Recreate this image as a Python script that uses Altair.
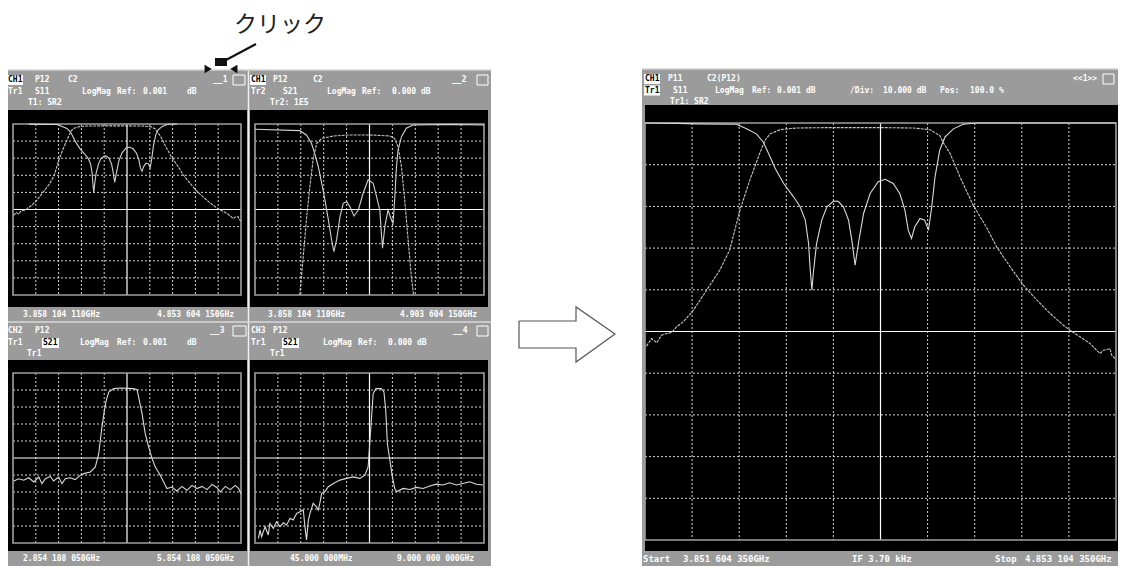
import altair as alt
import pandas as pd

# ---------------- trace data read off the screen shot ----------------
# Panel 1 and the maximised panel show the same measurement (GHz, dB)
s11_freq = [3.852, 3.922, 3.962, 4.047, 4.068, 4.089, 4.104, 4.118, 4.129, 4.147,
            4.168, 4.182, 4.193, 4.200, 4.203, 4.207, 4.210, 4.217, 4.228, 4.239,
            4.253, 4.263, 4.274, 4.285, 4.292, 4.299, 4.306, 4.317, 4.331, 4.348,
            4.363, 4.380, 4.394, 4.405, 4.412, 4.419, 4.426, 4.437, 4.447, 4.455,
            4.462, 4.469, 4.479, 4.490, 4.508, 4.529, 4.557, 4.573, 4.854]
s11_db = [0.0, -0.1, -0.2, -0.3, -1.4, -2.6, -4.6, -8.1, -10.9, -14.5,
          -17.7, -20.1, -23.3, -28.9, -34.5, -40.1, -36.1, -28.9, -23.3, -20.1,
          -18.7, -18.8, -20.1, -23.3, -28.1, -34.1, -28.9, -21.7, -16.9, -14.1,
          -13.5, -14.5, -16.9, -20.9, -25.7, -27.7, -24.9, -22.9, -23.3, -25.7,
          -20.1, -12.9, -6.5, -3.4, -1.4, -0.3, 0.0, 0.0, 0.0]
s21_freq = [3.855, 3.866, 3.877, 3.887, 3.898, 3.909, 3.919, 3.933, 3.955, 3.983,
            4.011, 4.032, 4.054, 4.075, 4.096, 4.107, 4.118, 4.140, 4.175, 4.246,
            4.355, 4.423, 4.458, 4.479, 4.486, 4.501, 4.522, 4.550, 4.578, 4.600,
            4.629, 4.657, 4.686, 4.714, 4.742, 4.756, 4.778, 4.799, 4.820, 4.827,
            4.841, 4.845, 4.854]
s21_db = [-53.5, -51.7, -52.7, -50.9, -50.5, -50.2, -48.9, -47.7, -44.9, -40.1,
          -35.3, -30.5, -20.9, -13.7, -7.3, -4.2, -2.6, -1.6, -1.2, -1.1,
          -1.1, -1.2, -1.6, -3.0, -4.6, -7.3, -12.9, -19.7, -24.9, -29.7,
          -34.5, -38.9, -42.5, -45.7, -48.5, -49.7, -51.3, -52.9, -55.3, -54.5,
          -54.1, -55.7, -56.7]

# Panel 2
p2a_freq = [3.852, 4.048, 4.077, 4.099, 4.115, 4.129, 4.144, 4.158, 4.173, 4.187,
            4.197, 4.209, 4.224, 4.238, 4.253, 4.267, 4.285, 4.304, 4.325, 4.347,
            4.369, 4.384, 4.398, 4.405, 4.410, 4.420, 4.434, 4.449, 4.456, 4.463,
            4.471, 4.478, 4.493, 4.514, 4.543, 4.704, 4.854]
p2a_db = [-3.1, -3.9, -6.4, -11.3, -18.1, -25.0, -34.7, -44.4, -56.1, -67.8,
          -74.7, -67.8, -54.2, -46.4, -45.4, -48.3, -53.8, -50.3, -40.5, -32.7,
          -34.7, -42.5, -50.3, -63.9, -72.7, -60.0, -50.3, -56.1, -58.1, -44.4,
          -25.0, -15.2, -7.4, -2.5, -0.6, -0.2, -0.6]
p2b_freq = [4.048, 4.063, 4.077, 4.092, 4.107, 4.122, 4.144, 4.195, 4.267, 4.354,
            4.442, 4.463, 4.478, 4.493, 4.507, 4.522, 4.536, 4.546]
p2b_db = [-100.0, -77.6, -56.1, -36.6, -20.1, -11.3, -8.4, -7.0, -6.4, -6.4,
          -7.0, -8.4, -13.3, -25.0, -44.4, -67.8, -89.3, -100.0]

# Panel 3
p3_freq = [2.863, 2.929, 2.995, 3.061, 3.127, 3.193, 3.235, 3.280, 3.346, 3.388,
           3.454, 3.499, 3.541, 3.607, 3.673, 3.739,
           3.784, 3.871, 3.937, 3.982, 4.003, 4.024, 4.057, 4.081, 4.114, 4.180,
           4.267, 4.441, 4.486, 4.507, 4.552, 4.594, 4.639, 4.684, 4.726, 4.792,
           4.858, 4.879,
           4.945, 5.011, 5.077, 5.143, 5.209, 5.275, 5.341, 5.407, 5.473, 5.539,
           5.581, 5.647, 5.713, 5.779, 5.824, 5.854]
p3_db = [-63.5, -62.2, -63.1, -61.6, -64.1, -61.2, -65.1, -62.2, -60.8, -63.5,
         -61.2, -65.1, -62.2, -61.6, -62.7, -60.2,
         -59.2, -58.2, -55.3, -47.5, -39.6, -31.8, -22.0, -16.1, -11.2, -9.2,
         -8.8, -9.2, -9.8, -14.1, -23.9, -35.7, -43.5, -50.4, -55.3, -60.2,
         -66.1, -68.0,
         -67.1, -69.4, -66.7, -69.0, -66.1, -68.0, -66.7, -68.6, -65.5, -67.5,
         -70.0, -66.7, -68.6, -66.1, -68.0, -71.0]

# Panel 4
p4_freq = [0.179, 0.242, 0.305, 0.439, 0.564, 0.627, 0.761, 0.887, 1.021, 1.155,
           1.281, 1.415, 1.540, 1.675, 1.800, 1.935, 1.997, 2.060, 2.132, 2.194,
           2.320, 2.454, 2.517, 2.579, 2.651, 2.776, 2.911, 3.108, 3.367, 3.627,
           3.887, 4.146, 4.343, 4.469, 4.532, 4.603, 4.666, 4.773, 4.988, 5.087,
           5.158, 5.221, 5.320, 5.418, 5.508, 5.579, 5.839, 6.099, 6.358, 6.618,
           6.878, 7.137, 7.397, 7.657, 7.916, 8.176, 8.445, 8.704, 8.964]
p4_db = [-97.3, -92.4, -96.3, -90.4, -95.3, -88.5, -91.4, -87.5, -90.4, -88.1,
         -89.4, -85.5, -86.5, -82.6, -81.6, -80.6, -90.4, -98.2, -86.5, -82.6,
         -76.7, -78.7, -80.6, -76.7, -70.8, -69.9, -66.9, -65.0, -63.0, -62.0,
         -61.1, -62.0, -60.1, -55.2, -41.5, -25.8, -12.1, -9.2, -9.2, -11.2,
         -21.9, -41.5, -51.3, -61.1, -67.9, -69.9, -67.9, -68.5, -67.3, -67.9,
         -66.5, -65.4, -65.9, -64.6, -65.9, -65.0, -64.0, -65.4, -65.9]

# ---------------- screen texts ----------------
footer_small = ['3.858 104 110GHz', '4.853 604 150GHz',
                '3.858 104 110GHz', '4.903 604 150GHz',
                '2.854 108 050GHz', '5.854 108 050GHz',
                '45.000 000MHz', '9.000 000 000GHz']
footer_big = ['Start', '3.851 604 350GHz', 'IF  3.70 kHz', 'Stop', '4.853 104 350GHz']
click_label = 'クリック'

# ---------------- layout (image pixel coordinates) ----------------
OFF, W, H = 8, 1110, 552
WH, BK = '#ffffff', '#000000'
BAND = '#9b9b9b'


def sx():
    return alt.Scale(domain=[OFF, OFF + W], range=[0, W], zero=False, nice=False)


def sy():
    return alt.Scale(domain=[OFF, OFF + H], range=[0, H], zero=False, nice=False)


def rect_layer(rows, outline=False, width=1):
    df = pd.DataFrame(rows, columns=['x', 'x2', 'y', 'y2', 'c'])
    enc = dict(x=alt.X('x:Q', scale=sx(), axis=None), x2='x2:Q',
               y=alt.Y('y:Q', scale=sy(), axis=None), y2='y2:Q')
    if outline:
        return alt.Chart(df).mark_rect(fillOpacity=0, strokeWidth=width).encode(
            stroke=alt.Stroke('c:N', scale=None), **enc)
    return alt.Chart(df).mark_rect().encode(color=alt.Color('c:N', scale=None), **enc)


def seg_layer(rows, width=1, dash=None):
    df = pd.DataFrame(rows, columns=['x', 'x2', 'y', 'y2', 'c'])
    kw = dict(strokeWidth=width)
    if dash:
        kw['strokeDash'] = dash
    return alt.Chart(df).mark_rule(**kw).encode(
        x=alt.X('x:Q', scale=sx(), axis=None), x2='x2:Q',
        y=alt.Y('y:Q', scale=sy(), axis=None), y2='y2:Q',
        color=alt.Color('c:N', scale=None))


def text_layer(rows, font, size, weight='normal'):
    df = pd.DataFrame(rows, columns=['x', 'y', 't', 'c'])
    return alt.Chart(df).mark_text(font=font, fontSize=size, fontWeight=weight,
                                   align='left', baseline='middle').encode(
        x=alt.X('x:Q', scale=sx(), axis=None),
        y=alt.Y('y:Q', scale=sy(), axis=None),
        text='t:N', color=alt.Color('c:N', scale=None))


def panel(g, fdom, traces):
    gx0, gx1, gy0, gy1 = g
    xd = alt.Scale(domain=[0, 10], range=[gx0 - OFF, gx1 - OFF], zero=False, nice=False)
    yd = alt.Scale(domain=[0, 10], range=[gy0 - OFF, gy1 - OFF], zero=False, nice=False)
    ks = [k for k in range(1, 10) if k != 5]
    dotted = [(k, k, 0, 10) for k in ks] + [(0, 10, k, k) for k in ks]
    centre = [(5, 5, 0, 10), (0, 10, 5, 5)]
    enc = lambda: dict(x=alt.X('x:Q', scale=xd, axis=None), x2='x2:Q',
                       y=alt.Y('y:Q', scale=yd, axis=None), y2='y2:Q')
    out = [
        alt.Chart(pd.DataFrame(dotted, columns=['x', 'x2', 'y', 'y2'])).mark_rule(
            color='#d4d4d4', strokeWidth=1, strokeDash=[2, 2]).encode(**enc()),
        alt.Chart(pd.DataFrame(centre, columns=['x', 'x2', 'y', 'y2'])).mark_rule(
            color='#ffffff', strokeWidth=1.2).encode(**enc()),
        alt.Chart(pd.DataFrame([(0, 10, 0, 10)], columns=['x', 'x2', 'y', 'y2'])).mark_rect(
            fillOpacity=0, stroke='#a0a0a0', strokeWidth=1.6).encode(**enc()),
    ]
    xf = alt.Scale(domain=fdom, range=[gx0 - OFF, gx1 - OFF], zero=False, nice=False)
    yf = alt.Scale(domain=[-100, 0], range=[gy1 - OFF, gy0 - OFF], zero=False, nice=False)
    for freq, db, color, dash, flt in traces:
        kw = dict(color=color, strokeWidth=1.1)
        if dash:
            kw['strokeDash'] = dash
        ch = alt.Chart(pd.DataFrame({'f': freq, 'db': db}))
        if flt:
            ch = ch.transform_filter(flt)
        out.append(ch.mark_line(**kw).encode(
            x=alt.X('f:Q', scale=xf, axis=None),
            y=alt.Y('db:Q', scale=yf, axis=None)))
    return out


layers = []

# screen backgrounds
layers.append(rect_layer([
    (5, 491, 70, 566, BAND), (642, 1124, 69, 566, BAND),
    (8, 247, 110, 307, BK), (250, 488, 110, 307, BK),
    (8, 247, 360, 551, BK), (250, 488, 360, 551, BK),
    (645, 1121, 105, 551, BK),
    # highlighted header fields
    (7, 23, 75, 85, WH), (250, 266, 75, 85, WH),
    (42, 59, 338, 348, WH), (282, 299, 338, 348, WH),
    (644, 660, 74, 84, WH), (644, 660, 85.5, 95.5, WH),
]))
layers.append(rect_layer([
    (233, 245, 75, 85, WH), (477, 488, 75, 85, WH),
    (233, 246, 326, 336, WH), (477, 488, 326, 336, WH),
    (1103, 1114, 74, 84, WH)], outline=True))
layers.append(seg_layer([
    (248.5, 248.5, 70, 566, '#f0f0f0'),
    (5, 491, 70, 70, '#d0d0d0'), (642, 1124, 69, 69, '#d0d0d0'),
    (5, 491, 322, 322, '#d8d8d8')], width=1.5))

# measurement panels
sig_main = [(s11_freq, s11_db, '#dadada', None, None),
            (s21_freq, s21_db, '#c4c4c4', [3, 1], None)]
sig_tl = [(s11_freq, s11_db, '#d0d0d0', None, 'datum.f >= 3.92 && datum.f <= 4.575'),
          (s21_freq, s21_db, '#c4c4c4', [3, 1], None)]
layers += panel((13, 241, 124, 295), [3.852, 4.854], sig_tl)
layers += panel((255, 484, 124, 295), [3.852, 4.854],
                [(p2a_freq, p2a_db, '#d0d0d0', None, None),
                 (p2b_freq, p2b_db, '#c4c4c4', [3, 1], None)])
layers += panel((13, 241, 373, 543), [2.854, 5.854],
                [(p3_freq, p3_db, '#dadada', None, None)])
layers += panel((255, 484, 373, 543), [0.045, 9.0],
                [(p4_freq, p4_db, '#dadada', None, None)])
layers += panel((645, 1116, 123, 540), [3.852, 4.854], sig_main)

# header / footer texts
hdr = [
    (8, 80, 'CH1', BK), (35, 80, 'P12', WH), (68, 80, 'C2', WH), (213, 80, '__1', WH),
    (8, 92, 'Tr1', WH), (35, 92, 'S11', WH), (82, 92, 'LogMag', WH), (117, 92, 'Ref:', WH),
    (143, 92, '0.001', WH), (187, 92, 'dB', WH), (28, 103, 'T1: SR2', WH),
    (251, 80, 'CH1', BK), (273, 80, 'P12', WH), (313, 80, 'C2', WH), (452, 80, '__2', WH),
    (251, 92, 'Tr2', WH), (283, 92, 'S21', WH), (327, 92, 'LogMag', WH), (362, 92, 'Ref:', WH),
    (392, 92, '0.000 dB', WH), (270, 103, 'Tr2: 1E5', WH),
    (8, 331, 'CH2', WH), (35, 331, 'P12', WH), (210, 331, '__3', WH),
    (8, 343, 'Tr1', WH), (43, 343, 'S21', BK), (80, 343, 'LogMag', WH), (117, 343, 'Ref:', WH),
    (143, 343, '0.001', WH), (187, 343, 'dB', WH), (27, 354, 'Tr1', WH),
    (251, 331, 'CH3', WH), (273, 331, 'P12', WH), (453, 331, '__4', WH),
    (251, 343, 'Tr1', WH), (283, 343, 'S21', BK), (323, 343, 'LogMag', WH), (358, 343, 'Ref:', WH),
    (388, 343, '0.000 dB', WH), (270, 354, 'Tr1', WH),
    (645, 79, 'CH1', BK), (668, 79, 'P11', WH), (707, 79, 'C2(P12)', WH), (1073, 79, '<<1>>', WH),
    (645, 90.5, 'Tr1', BK), (673, 90.5, 'S11', WH), (715, 90.5, 'LogMag', WH),
    (752, 90.5, 'Ref:', WH), (777, 90.5, '0.001 dB', WH), (850, 90.5, '/Div:', WH),
    (883, 90.5, '10.000 dB', WH), (940, 90.5, 'Pos:', WH), (970, 90.5, '100.0 %', WH),
    (670, 102, 'Tr1: SR2', WH),
]
fx = [23, 157, 268, 400, 23, 157, 290, 397]
fy = [315, 315, 315, 315, 559, 559, 559, 559]
hdr += [(fx[i], fy[i], footer_small[i], WH) for i in range(len(footer_small))]
layers.append(text_layer(hdr, 'DejaVu Sans Mono', 8, 'bold'))
bx = [643, 683, 852, 995, 1025]
layers.append(text_layer([(bx[i], 559, footer_big[i], WH) for i in range(len(footer_big))],
                         'DejaVu Sans Mono', 9, 'bold'))

# "click" annotation
layers.append(text_layer([(234, 25, click_label, '#222222')], 'Noto Sans CJK JP', 23))
layers.append(seg_layer([(256, 226, 44, 60, '#111111')], width=2))
layers.append(rect_layer([(215, 227, 58, 66, '#111111')]))
tri = pd.DataFrame({'x': [207, 235], 'y': [69, 69], 'a': [330, 30]})
layers.append(alt.Chart(tri).mark_point(shape='triangle', filled=True, color='#111111',
                                        opacity=1, size=70).encode(
    x=alt.X('x:Q', scale=sx(), axis=None), y=alt.Y('y:Q', scale=sy(), axis=None),
    angle=alt.Angle('a:Q', scale=None)))

# hollow block arrow between the two screens
arrow = pd.DataFrame({'x': [519, 576, 576, 615, 576, 576, 519, 519],
                      'y': [321, 321, 307, 334, 362, 348, 348, 321],
                      'i': list(range(8))})
layers.append(alt.Chart(arrow).mark_line(color='#555555', strokeWidth=1.2).encode(
    x=alt.X('x:Q', scale=sx(), axis=None), y=alt.Y('y:Q', scale=sy(), axis=None),
    order=alt.Order('i:Q')))

chart = alt.layer(*layers).resolve_scale(x='independent', y='independent').properties(
    width=W, height=H, autosize=alt.AutoSizeParams(type='none'),
    padding={'left': 0, 'top': 0, 'right': 0, 'bottom': 8},
    background='white').configure_view(strokeWidth=0)

chart.save('out.html', embed_options={'renderer': 'svg', 'actions': False})
